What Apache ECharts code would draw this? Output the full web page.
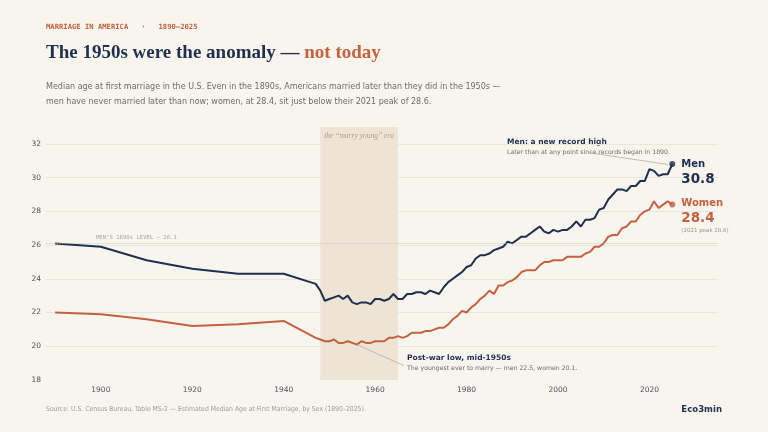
<!DOCTYPE html>
<html>
<head>
<meta charset="utf-8">
<script src="https://cdn.jsdelivr.net/npm/echarts@6/dist/echarts.min.js"></script>
<style>
  html, body { margin: 0; padding: 0; background: #f8f5ee; }
  #chart { width: 768px; height: 432px; }
</style>
</head>
<body>
<div id="chart"></div>
<script>
// median age at first marriage (Census MS-2), 1890-1940 by decade, then yearly
const years = [1890, 1900, 1910, 1920, 1930, 1940,
  1947, 1948, 1949, 1950, 1951, 1952, 1953, 1954, 1955, 1956, 1957, 1958, 1959,
  1960, 1961, 1962, 1963, 1964, 1965, 1966, 1967, 1968, 1969,
  1970, 1971, 1972, 1973, 1974, 1975, 1976, 1977, 1978, 1979,
  1980, 1981, 1982, 1983, 1984, 1985, 1986, 1987, 1988, 1989,
  1990, 1991, 1992, 1993, 1994, 1995, 1996, 1997, 1998, 1999,
  2000, 2001, 2002, 2003, 2004, 2005, 2006, 2007, 2008, 2009,
  2010, 2011, 2012, 2013, 2014, 2015, 2016, 2017, 2018, 2019,
  2020, 2021, 2022, 2023, 2024, 2025]

const men = [26.1, 25.9, 25.1, 24.6, 24.3, 24.3,
  23.7, 23.3, 22.7, 22.8, 22.9, 23.0, 22.8, 23.0, 22.6, 22.5, 22.6, 22.6, 22.5,
  22.8, 22.8, 22.7, 22.8, 23.1, 22.8, 22.8, 23.1, 23.1, 23.2,
  23.2, 23.1, 23.3, 23.2, 23.1, 23.5, 23.8, 24.0, 24.2, 24.4,
  24.7, 24.8, 25.2, 25.4, 25.4, 25.5, 25.7, 25.8, 25.9, 26.2,
  26.1, 26.3, 26.5, 26.5, 26.7, 26.9, 27.1, 26.8, 26.7, 26.9,
  26.8, 26.9, 26.9, 27.1, 27.4, 27.1, 27.5, 27.5, 27.6, 28.1,
  28.2, 28.7, 29.0, 29.3, 29.3, 29.2, 29.5, 29.5, 29.8, 29.8,
  30.5, 30.4, 30.1, 30.2, 30.2, 30.8]

const women = [22.0, 21.9, 21.6, 21.2, 21.3, 21.5,
  20.5, 20.4, 20.3, 20.3, 20.4, 20.2, 20.2, 20.3, 20.2, 20.1, 20.3, 20.2, 20.2,
  20.3, 20.3, 20.3, 20.5, 20.5, 20.6, 20.5, 20.6, 20.8, 20.8,
  20.8, 20.9, 20.9, 21.0, 21.1, 21.1, 21.3, 21.6, 21.8, 22.1,
  22.0, 22.3, 22.5, 22.8, 23.0, 23.3, 23.1, 23.6, 23.6, 23.8,
  23.9, 24.1, 24.4, 24.5, 24.5, 24.5, 24.8, 25.0, 25.0, 25.1,
  25.1, 25.1, 25.3, 25.3, 25.3, 25.3, 25.5, 25.6, 25.9, 25.9,
  26.1, 26.5, 26.6, 26.6, 27.0, 27.1, 27.4, 27.4, 27.8, 28.0,
  28.1, 28.6, 28.2, 28.4, 28.6, 28.4]

const xLabels = [1900, 1920, 1940, 1960, 1980, 2000, 2020]
const era = [1948, 1965]
const menBaseline = 26.1
const womenPeak = { year: 2021, value: 28.6 }

// leader lines for the two callouts, in data space [year, age]
const lowLeader = [[1956, 20.1], [1966.3, 18.85]]
const highLeader = [[2006.9, 31.47], [2024, 30.78]]

const NAVY = '#1f2f4e'
const RUST = '#c4613f'
const GREY = '#6f6c66'

const menData = years.map((y, i) => [y, men[i]])
const womenData = years.map((y, i) => [y, women[i]])
const last = years.length - 1

const chart = echarts.init(document.getElementById('chart'))

chart.setOption({
  backgroundColor: '#f8f5ee',
  animation: false,
  grid: { left: 46, right: 50, top: 127, bottom: 52 },
  xAxis: {
    type: 'value',
    min: 1888,
    max: 2035,
    axisLine: { show: false },
    axisTick: { show: false },
    splitLine: { show: false },
    axisLabel: {
      customValues: xLabels,
      formatter: v => String(v),
      color: '#4a5266',
      fontSize: 7.5,
      fontFamily: 'DejaVu Sans',
      margin: 6
    }
  },
  yAxis: {
    type: 'value',
    min: 18,
    max: 33,
    interval: 2,
    axisLine: { show: false },
    axisTick: { show: false },
    axisLabel: {
      showMaxLabel: false,
      color: '#4a5266',
      fontSize: 7.5,
      fontFamily: 'DejaVu Sans',
      margin: 5
    },
    splitLine: {
      show: true,
      showMinLine: false,
      showMaxLine: false,
      lineStyle: { color: '#ebe6dd', width: 1 }
    }
  },
  series: [
    {
      // the 1948-65 shaded band + baseline
      type: 'line',
      data: [],
      z: 1,
      markArea: {
        silent: true,
        itemStyle: { color: '#ede4d6' },
        label: {
          show: true,
          position: 'insideTop',
          distance: 5,
          formatter: 'the \u201cmarry young\u201d era',
          fontFamily: 'Liberation Serif',
          fontStyle: 'italic',
          fontSize: 7.5,
          color: '#a89f91'
        },
        data: [[{ xAxis: era[0] }, { xAxis: era[1] }]]
      },
      markLine: {
        silent: true,
        symbol: 'none',
        lineStyle: { type: 'dotted', color: '#c9c3b8', width: 0.8 },
        label: {
          show: true,
          position: 'insideStartTop',
          distance: [50, 3],
          formatter: "MEN'S 1890s LEVEL \u2014 " + menBaseline,
          fontFamily: 'DejaVu Sans Mono',
          fontSize: 5.6,
          color: '#a9a59e'
        },
        data: [{ yAxis: menBaseline }]
      }
    },
    {
      // callout leaders
      type: 'line',
      data: [],
      z: 2,
      markLine: {
        silent: true,
        symbol: 'none',
        label: { show: false },
        lineStyle: { type: 'solid', color: '#b3aea6', width: 0.8 },
        data: [
          [{ coord: lowLeader[0] }, { coord: lowLeader[1] }],
          [{ coord: highLeader[0] }, { coord: highLeader[1] }]
        ]
      }
    },
    {
      name: 'Men',
      type: 'line',
      data: menData,
      z: 4,
      showSymbol: false,
      lineStyle: { color: NAVY, width: 2 },
      itemStyle: { color: NAVY },
      endLabel: {
        show: true,
        distance: 9,
        offset: [0, 8],
        formatter: () => '{n|Men}\n{v|' + men[last].toFixed(1) + '}',
        rich: {
          n: { fontFamily: 'DejaVu Sans', fontWeight: 'bold', fontSize: 10, color: NAVY, lineHeight: 15 },
          v: { fontFamily: 'DejaVu Sans', fontWeight: 'bold', fontSize: 13.5, color: NAVY, lineHeight: 16 }
        }
      }
    },
    {
      name: 'Women',
      type: 'line',
      data: womenData,
      z: 3,
      showSymbol: false,
      lineStyle: { color: RUST, width: 2 },
      itemStyle: { color: RUST },
      endLabel: {
        show: true,
        distance: 9,
        offset: [0, 11.5],
        formatter: () => '{n|Women}\n{v|' + women[last].toFixed(1) + '}\n{p|(' + womenPeak.year + ' peak ' + womenPeak.value + ')}',
        rich: {
          n: { fontFamily: 'DejaVu Sans', fontWeight: 'bold', fontSize: 10, color: RUST, lineHeight: 14 },
          v: { fontFamily: 'DejaVu Sans', fontWeight: 'bold', fontSize: 13.5, color: RUST, lineHeight: 15 },
          p: { fontFamily: 'DejaVu Sans', fontSize: 5.5, color: '#9a968f', lineHeight: 10 }
        }
      }
    },
    {
      // end-point dots
      type: 'scatter',
      z: 5,
      symbolSize: 6,
      silent: true,
      data: [
        { value: menData[last], itemStyle: { color: NAVY } },
        { value: womenData[last], itemStyle: { color: RUST } }
      ]
    }
  ],
  graphic: [
    {
      type: 'text', left: 46, top: 24,
      style: {
        text: 'MARRIAGE IN AMERICA   \u00b7   1890\u20132025',
        fontFamily: 'DejaVu Sans Mono', fontWeight: 'bold', fontSize: 7.2, fill: RUST
      }
    },
    {
      type: 'text', left: 46, top: 44,
      style: {
        text: '{a|The 1950s were the anomaly \u2014 }{b|not today}',
        rich: {
          a: { fontFamily: 'Liberation Serif', fontWeight: 'bold', fontSize: 19, fill: NAVY },
          b: { fontFamily: 'Liberation Serif', fontWeight: 'bold', fontSize: 19, fill: RUST }
        }
      }
    },
    {
      type: 'text', left: 46, top: 80,
      style: {
        text: 'Median age at first marriage in the U.S. Even in the 1890s, Americans married later than they did in the 1950s \u2014\nmen have never married later than now; women, at 28.4, sit just below their 2021 peak of 28.6.',
        fontFamily: 'DejaVu Sans', fontSize: 8, lineHeight: 14.5, fill: GREY
      }
    },
    {
      type: 'text', left: 507, top: 138,
      style: { text: 'Men: a new record high', fontFamily: 'DejaVu Sans', fontWeight: 'bold', fontSize: 7.5, fill: NAVY }
    },
    {
      type: 'text', left: 507, top: 149,
      style: { text: 'Later than at any point since records began in 1890.', fontFamily: 'DejaVu Sans', fontSize: 6.2, fill: GREY }
    },
    {
      type: 'text', left: 407, top: 354,
      style: { text: 'Post-war low, mid-1950s', fontFamily: 'DejaVu Sans', fontWeight: 'bold', fontSize: 7.5, fill: NAVY }
    },
    {
      type: 'text', left: 407, top: 365,
      style: { text: 'The youngest ever to marry \u2014 men 22.5, women 20.1.', fontFamily: 'DejaVu Sans', fontSize: 6.2, fill: GREY }
    },
    {
      type: 'text', left: 46, top: 406,
      style: {
        text: 'Source: U.S. Census Bureau, Table MS-2 \u2014 Estimated Median Age at First Marriage, by Sex (1890\u20132025).',
        fontFamily: 'DejaVu Sans Condensed', fontSize: 6.8, fill: '#a19d96'
      }
    },
    {
      type: 'text', right: 46, top: 405,
      style: { text: 'Eco3min', fontFamily: 'DejaVu Sans Condensed', fontWeight: 'bold', fontSize: 9.5, fill: NAVY }
    }
  ]
})

window.addEventListener('resize', () => chart.resize())
</script>
</body>
</html>
